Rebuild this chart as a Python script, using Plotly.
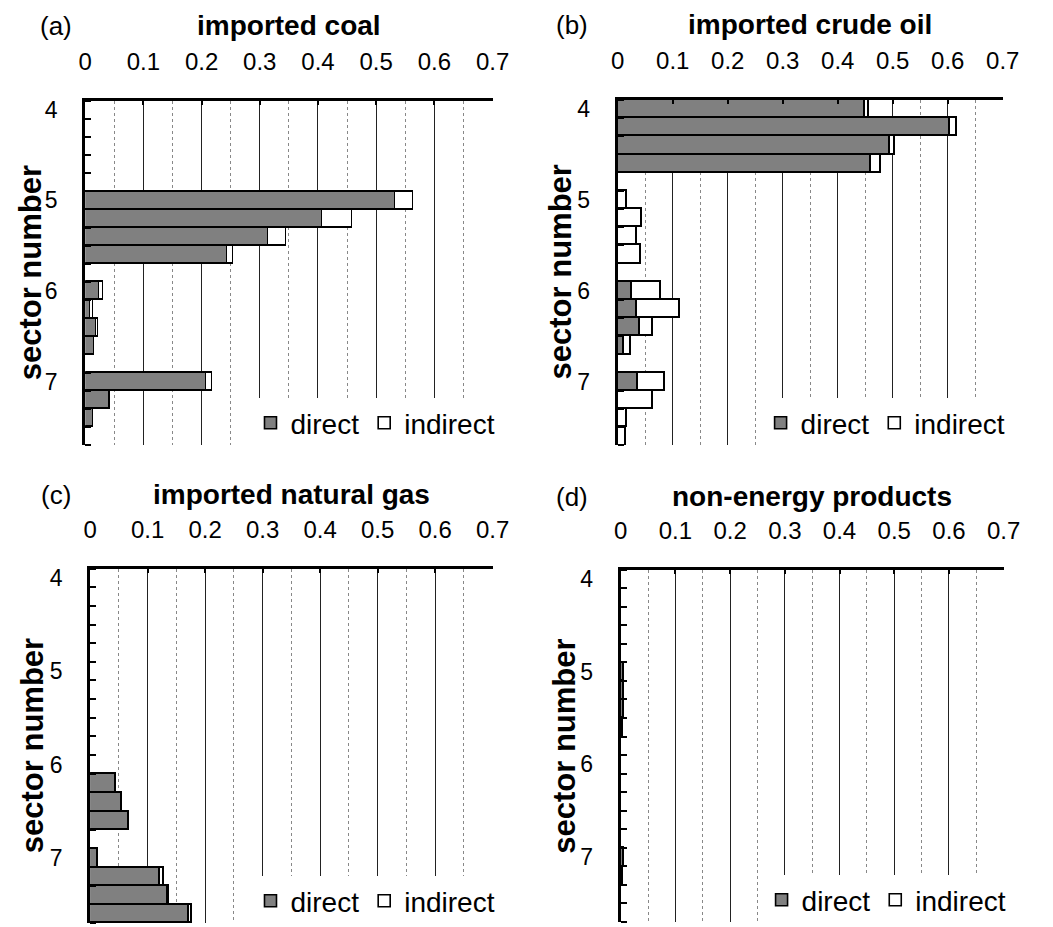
import plotly.graph_objects as go

# Rows of each panel, top to bottom: four sub-sectors per sector number,
# with an empty separator row between sectors.
rows = list(range(19))
sector_rows = [0, 5, 10, 15]
sector_labels = ["4", "5", "6", "7"]

coal_direct = [0, 0, 0, 0, 0, 0.532, 0.407, 0.314, 0.244, 0, 0.024, 0.009, 0.019, 0.015, 0, 0.208, 0.042, 0.013, 0]
coal_indirect = [0, 0, 0, 0, 0, 0.031, 0.051, 0.032, 0.011, 0, 0.007, 0.005, 0.003, 0.001, 0, 0.011, 0.001, 0.001, 0]

oil_direct = [0.450, 0.604, 0.494, 0.460, 0, 0, 0, 0, 0, 0, 0.026, 0.035, 0.040, 0.010, 0, 0.037, 0, 0, 0]
oil_indirect = [0.006, 0.012, 0.009, 0.018, 0, 0.017, 0.043, 0.035, 0.041, 0, 0.052, 0.078, 0.023, 0.014, 0, 0.049, 0.063, 0.017, 0.015]

gas_direct = [0, 0, 0, 0, 0, 0, 0, 0, 0, 0, 0, 0.045, 0.056, 0.068, 0, 0.014, 0.121, 0.136, 0.173]
gas_indirect = [0, 0, 0, 0, 0, 0, 0, 0, 0, 0, 0, 0, 0, 0, 0, 0, 0.008, 0.001, 0.004]

nonenergy_direct = [0, 0, 0, 0, 0, 0.005, 0.006, 0.005, 0.004, 0, 0, 0, 0, 0, 0, 0.006, 0.003, 0, 0]
nonenergy_indirect = [0] * 19

x_ticks = [0, 0.1, 0.2, 0.3, 0.4, 0.5, 0.6, 0.7]
x_ticktext = ["0", "0.1", "0.2", "0.3", "0.4", "0.5", "0.6", "0.7"]

panels = [
    ("(a)", "imported coal", coal_direct, coal_indirect),
    ("(b)", "imported crude oil", oil_direct, oil_indirect),
    ("(c)", "imported natural gas", gas_direct, gas_indirect),
    ("(d)", "non-energy products", nonenergy_direct, nonenergy_indirect),
]

W, H = 1053, 927
# plot-area boxes in pixels: left, right, top, bottom
boxes = [
    (80, 497, 97, 443),
    (625, 1019, 96, 443),
    (85, 497, 567, 923),
    (628, 1020, 568, 922),
]
# label positions (pixels): panel letter x, title y, axis-title x
label_pos = [
    (50, 22, 24),
    (578, 21, 566),
    (50, 493, 26),
    (578, 495, 571),
]

FONT = "Liberation Sans, Arial, sans-serif"
fig = go.Figure()
layout = dict(
    width=W, height=H,
    margin=dict(l=0, r=0, t=0, b=0),
    paper_bgcolor="white", plot_bgcolor="white",
    barmode="stack", bargap=0,
    font=dict(family=FONT, color="black"),
    annotations=[],
)

for i, (letter, title, direct, indirect) in enumerate(panels):
    n = "" if i == 0 else str(i + 1)
    xa, ya = "x" + n, "y" + n
    lg = "legend" + n
    left, right, top, bottom = boxes[i]

    fig.add_trace(go.Bar(
        y=rows, x=direct, orientation="h", name="direct",
        marker=dict(color="#808080", line=dict(color="black", width=1.6)),
        xaxis=xa, yaxis=ya, legend=lg,
    ))
    fig.add_trace(go.Bar(
        y=rows, x=indirect, orientation="h", name="indirect",
        marker=dict(color="white", line=dict(color="black", width=1.6)),
        xaxis=xa, yaxis=ya, legend=lg,
    ))

    layout["xaxis" + n] = dict(
        domain=[left / W, right / W], anchor=ya, side="top",
        range=[0, 0.7001], tickmode="array", tickvals=x_ticks, ticktext=x_ticktext,
        ticks="inside", ticklen=5, tickwidth=2, tickcolor="black",
        ticklabelstandoff=18,
        tickfont=dict(size=24, family=FONT),
        showline=True, linecolor="black", linewidth=2.5,
        showgrid=True, gridcolor="#222222", gridwidth=1,
        minor=dict(tickmode="linear", tick0=0, dtick=0.05, showgrid=True,
                   gridcolor="#888888", gridwidth=1, griddash="dot"),
        zeroline=False, fixedrange=True,
    )
    layout["yaxis" + n] = dict(
        domain=[1 - bottom / H, 1 - top / H], anchor=xa,
        range=[18.5, -0.5], tickmode="array", tickvals=sector_rows, ticktext=sector_labels,
        ticks="", ticklabelstandoff=20,
        tickfont=dict(size=23, family=FONT),
        minor=dict(tickmode="linear", tick0=-0.5, dtick=1, ticks="inside",
                   ticklen=6, tickwidth=2, tickcolor="black", showgrid=False),
        showline=True, linecolor="black", linewidth=3,
        showgrid=False, zeroline=False, fixedrange=True,
    )
    layout[lg] = dict(
        orientation="h", traceorder="normal",
        x=(right + 8) / W, xanchor="right",
        y=1 - (bottom + 3) / H, yanchor="bottom",
        bgcolor="white", borderwidth=0,
        font=dict(size=28, family=FONT),
        itemwidth=30, tracegroupgap=0,
    )

    lx, ty, ax_x = label_pos[i]
    layout["annotations"] += [
        dict(text=letter, x=lx / W, y=1 - ty / H, xref="paper", yref="paper",
             xanchor="center", yanchor="middle", showarrow=False,
             font=dict(size=26, family=FONT)),
        dict(text="<b>%s</b>" % title, x=(left + right) / 2 / W, y=1 - ty / H,
             xref="paper", yref="paper", xanchor="center", yanchor="middle",
             showarrow=False, font=dict(size=28, family=FONT)),
        dict(text="<b>sector number</b>", x=ax_x / W, y=1 - (top + bottom) / 2 / H,
             xref="paper", yref="paper", xanchor="center", yanchor="middle",
             textangle=-90, showarrow=False, font=dict(size=31, family=FONT)),
    ]

fig.update_layout(**layout)
fig.write_html("out.html")
